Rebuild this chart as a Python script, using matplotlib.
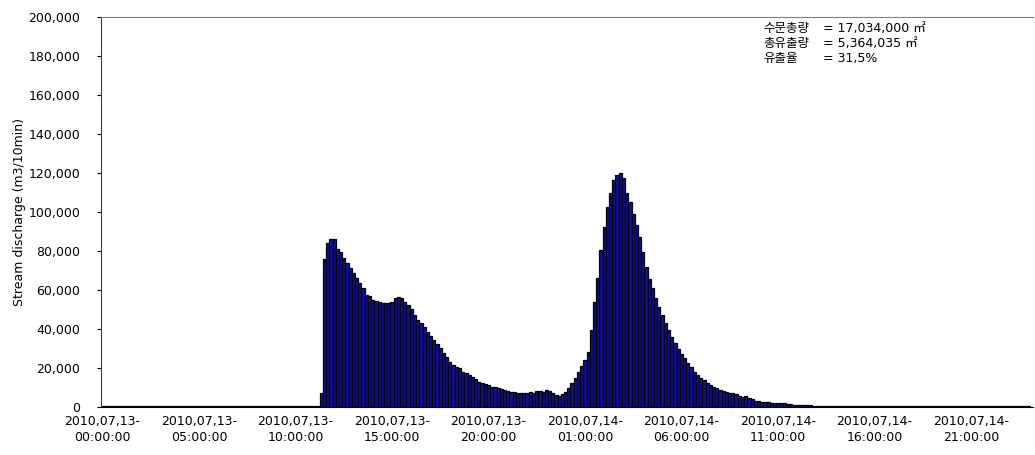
import matplotlib.pyplot as plt
from matplotlib.ticker import FuncFormatter

plt.rcParams['font.family'] = ['DejaVu Sans', 'Noto Sans CJK KR']

# --- Data: 10-minute stream discharge (m3/10min), 2010.07.13 00:00 -> 2010.07.15 00:00 ---
pre_event = [700, 700, 700, 700, 700, 700, 700, 700, 700, 700,
             700, 700, 700, 700, 700, 700, 700, 700, 700, 700,
             700, 700, 700, 700, 700, 700, 700, 700, 700, 700,
             700, 700, 700, 700, 700, 700, 700, 700, 700, 700,
             700, 700, 700, 700, 700, 700, 700, 700, 700, 700,
             700, 700, 700, 700, 700, 700, 700, 700, 700, 700,
             700, 700, 700, 700, 700, 700, 700, 700, 7300]

event1 = [75700, 83900, 86000, 86000, 81000, 79700, 76200, 73700, 71100, 68500,
          66000, 63400, 60900, 57400, 56900, 54900, 54500, 54000, 53500, 53200,
          53500, 54000, 55700, 56600, 55700, 54000, 52300, 50100, 47200, 44600,
          42900, 41200, 38600, 36400, 34400, 32300, 30100, 27500, 25500, 23200,
          21500, 20700, 19800, 18100, 17300, 16400, 15600, 14200, 13000, 12100,
          11800, 11300, 10400, 10100, 9600, 9100, 8700, 8400, 7900, 7700,
          7400, 7400, 7400, 7400, 7700, 7400, 8000, 8400]

event2 = [7900, 8700, 8000, 7000, 6200, 5800, 6500, 7500, 9600, 12500,
          15000, 18100, 21000, 24100, 28400, 39500, 54000, 66000, 80500, 92500,
          102700, 109600, 116400, 119000, 120200, 117300, 110000, 105300, 99000, 93500,
          87000, 79500, 72000, 65500, 61000, 56000, 51500, 47300, 43000, 39300,
          35800, 33000, 29800, 27300, 25000, 22500, 20400, 18000, 16300, 15000,
          13800, 12400, 11200, 10300, 9600, 8800, 8200, 7600, 7100, 7000,
          6800, 5500, 5300, 5800, 4500, 4200, 3200, 3000, 2800, 2700,
          2600, 2300, 2200, 2100, 2000, 1800, 1500, 1300, 1100, 1000,
          900, 900, 900, 800]

tail = [600, 600, 600, 600, 600, 600, 600, 600, 600, 600,
        600, 600, 600, 600, 600, 600, 600, 600, 600, 600,
        600, 600, 600, 600, 600, 600, 600, 600, 600, 600,
        600, 600, 600, 600, 600, 600, 600, 600, 600, 600,
        600, 600, 600, 600, 600, 600, 600, 600, 600, 600,
        600, 600, 600, 600, 600, 600, 600, 600, 600, 600,
        600, 600, 600, 600, 600, 600, 600, 600]

discharge = pre_event + event1 + event2 + tail

tick_labels = ["2010,07,13-\n00:00:00", "2010,07,13-\n05:00:00", "2010,07,13-\n10:00:00",
               "2010,07,13-\n15:00:00", "2010,07,13-\n20:00:00", "2010,07,14-\n01:00:00",
               "2010,07,14-\n06:00:00", "2010,07,14-\n11:00:00", "2010,07,14-\n16:00:00",
               "2010,07,14-\n21:00:00"]
tick_steps = [0, 30, 60, 90, 120, 150, 180, 210, 240, 270]

summary_names = ["수문총량", "총유출량", "유출율"]
summary_values = ["= 17,034,000 ㎡", "= 5,364,035 ㎡", "= 31,5%"]

# --- Plot ---
fig = plt.figure(figsize=(10.35, 4.55), dpi=100)
ax = fig.add_axes([0.0976, 0.1055, 0.9, 0.857])

x = list(range(len(discharge)))
ax.bar(x, discharge, width=1.0, align='edge', color='#10109a',
       edgecolor='black', linewidth=0.9)

ax.set_xlim(0, 289.7)
ax.set_ylim(0, 200000)
ax.set_yticks(range(0, 200001, 20000))
ax.yaxis.set_major_formatter(FuncFormatter(lambda v, p: f"{int(v):,}"))
ax.set_xticks([s + 0.5 for s in tick_steps])
ax.set_xticklabels(tick_labels, fontsize=9, linespacing=1.3)
ax.tick_params(axis='x', length=0, pad=6)
ax.tick_params(axis='y', labelsize=9, length=3, direction='out', pad=12)

ax.set_ylabel("Stream discharge (m3/10min)", fontsize=9, labelpad=2)

ax.spines['right'].set_visible(False)
ax.spines['top'].set_color('#808080')
ax.spines['left'].set_color('#404040')
ax.spines['bottom'].set_color('black')

for k, (name, val) in enumerate(zip(summary_names, summary_values)):
    yy = 0.970 - k * 0.0385
    ax.text(0.711, yy, name, transform=ax.transAxes, fontsize=9, va='center', ha='left')
    ax.text(0.7755, yy, val, transform=ax.transAxes, fontsize=9, va='center', ha='left')

fig.savefig("out.png", dpi=100)
